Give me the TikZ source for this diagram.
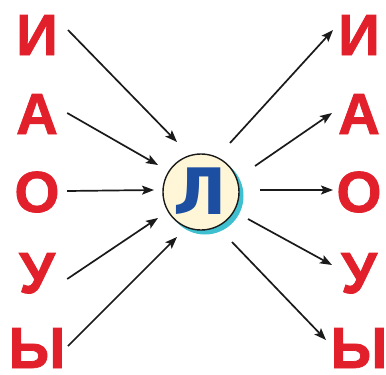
\documentclass[tikz,border=0pt]{standalone}
\usepackage{fontspec}
\setmainfont{Liberation Sans}
\newfontfamily\vfont[BoldFeatures={FakeBold=1.3}]{Liberation Sans}
\newfontfamily\hubfont{DejaVu Sans}
\usetikzlibrary{arrows.meta}
\definecolor{letred}{HTML}{E2202B}
\definecolor{lblue}{HTML}{1C4FA2}
\definecolor{cream}{HTML}{FFF6D8}
\definecolor{teal2}{HTML}{3EC0D0}
\definecolor{arrcol}{HTML}{1A1A1A}
\tikzset{
  vowel/.style={text=letred, font=\vfont\fontsize{58}{58}\selectfont\bfseries, inner sep=0pt,
    minimum width=60pt, text height=42pt, text depth=0pt, align=center},
  arr/.style={draw=arrcol, line width=1.7pt, -{Stealth[length=12pt,width=9pt,inset=2.5pt]}},
  hub/.style={circle, draw=arrcol, line width=1.4pt, fill=cream, minimum size=76pt, inner sep=0pt},
  shadowdisc/.style={circle, fill=teal2, minimum size=77pt, inner sep=0pt}
}
\begin{document}
\begin{tikzpicture}[x=1pt,y=-1pt]
\useasboundingbox (0,0) rectangle (386,375);
% hub
\node[shadowdisc] (sh) at (205,196) {};
\node[hub] (c) at (201,192) {};
\node[text=lblue, font=\hubfont\fontsize{64}{64}\selectfont\bfseries, inner sep=0pt] (l) at (200,191) {Л};
% left letters
\node[vowel] (L1) at (37,34) {И};
\node[vowel] (L2) at (37,113) {А};
\node[vowel] (L3) at (37,191) {О};
\node[vowel] (L4) at (37,272) {У};
\node[vowel] (L5) at (37,347) {Ы};
% right letters
\node[vowel] (R1) at (359,34) {И};
\node[vowel] (R2) at (359,113) {А};
\node[vowel] (R3) at (359,191) {О};
\node[vowel] (R4) at (359,272) {У};
\node[vowel] (R5) at (359,347) {Ы};
% arrow ends near hub
\coordinate (t1) at (177,142);
\coordinate (t2) at (158,165);
\coordinate (t3) at (154,190);
\coordinate (t4) at (158,218);
\coordinate (t5) at (177,237);
\coordinate (s1) at (230,143);
\coordinate (s2) at (255,166);
\coordinate (s3) at (260,190);
\coordinate (s4) at (248,219);
\coordinate (s5) at (232,242);
\coordinate (a1) at (68,30);
\coordinate (a5) at (68,346);
\coordinate (b1) at (333,30);
\coordinate (b2) at (332,113);
\coordinate (b3) at (333,190);
\coordinate (b4) at (332,265);
\coordinate (b5) at (326,340);
% incoming
\draw[arr] (a1) -- (t1);
\draw[arr] (L2.east) -- (t2);
\draw[arr] (L3.east) -- (t3);
\draw[arr] ([yshift=-7pt]L4.east) -- (t4);
\draw[arr] (a5) -- (t5);
% outgoing
\draw[arr] (s1) -- (b1);
\draw[arr] (s2) -- (b2);
\draw[arr] (s3) -- (b3);
\draw[arr] (s4) -- (b4);
\draw[arr] (s5) -- (b5);
\end{tikzpicture}
\end{document}
